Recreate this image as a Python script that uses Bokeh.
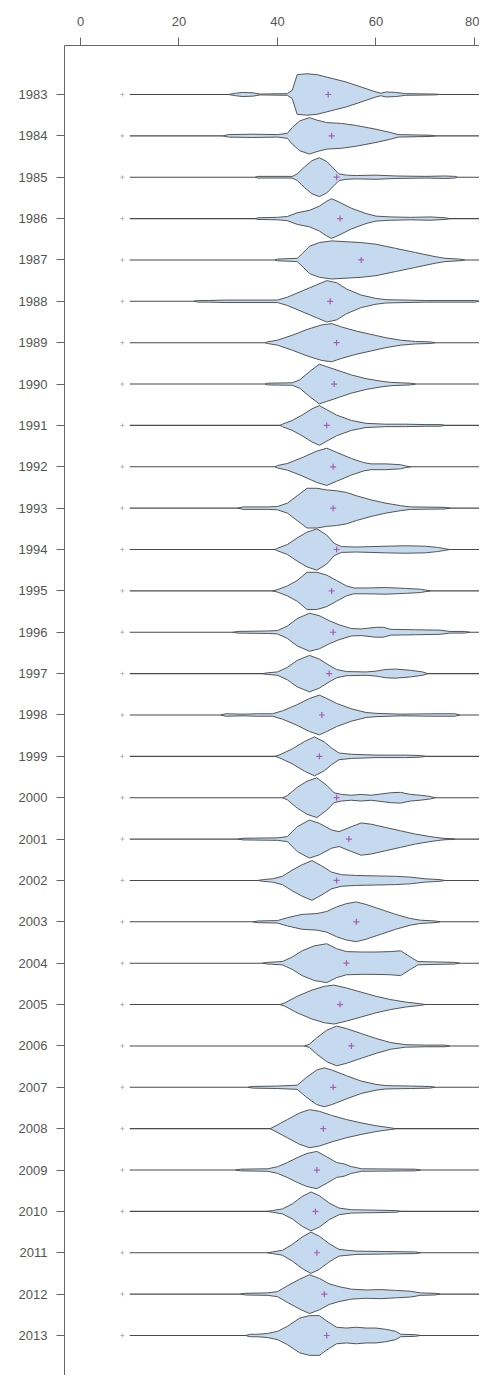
from bokeh.plotting import figure
from bokeh.models import Range1d, FixedTicker, ColumnDataSource
from bokeh.embed import file_html
from bokeh.resources import INLINE

years = list(range(1983, 2014))
year_labels = [str(y) for y in years]
x_ticks = [0, 20, 40, 60, 80]

means = [50.3, 51.0, 52.0, 52.7, 57.0, 50.7, 52.0, 51.5, 50.0, 51.3,
         51.3, 52.0, 51.0, 51.3, 50.5, 49.0, 48.5, 52.0, 54.5, 52.0,
         56.0, 54.0, 52.7, 55.0, 51.3, 49.3, 48.0, 47.7, 48.0, 49.5, 50.0]

min_mark = 8.5
line_from = 10
line_to = 95

# bean outlines: value knots and half widths (in units of year spacing)
bean_v = [
    [30, 31.5, 33, 35, 36.5, 42, 43, 44, 46, 48, 50, 54, 57, 60, 61, 62, 64, 66, 72, 73],
    [29, 30, 35, 40, 42, 43, 44.5, 46.5, 48, 50, 53, 56, 60, 63, 64.5, 71, 72],
    [35.5, 36, 43, 44, 45.5, 47, 48.5, 50, 51.5, 52.5, 54, 56, 60, 64, 70, 74, 76, 76.5],
    [35.5, 36, 40, 42, 44, 46.5, 48.5, 50, 51, 52.5, 55, 58, 60, 63, 67, 71, 74, 75],
    [39.5, 40, 44, 45, 46.5, 48.5, 51, 54, 57, 60, 64, 68, 72, 74, 77, 78],
    [23, 24, 26, 29.5, 32, 40, 42, 45, 48, 50, 52, 54, 57, 60, 62, 70, 80, 81],
    [37.5, 38, 40, 43, 46, 49, 51, 53, 56, 59, 62, 65, 68, 71, 72],
    [37.5, 38, 43, 44.5, 46.5, 48.5, 50, 52.5, 55, 58, 61, 63, 67, 68],
    [40.5, 41, 43, 45, 47, 48.5, 50, 52, 55, 58, 62, 66, 70, 73, 74],
    [39.5, 40, 42, 45, 48, 50, 52, 55, 57.5, 59, 62, 65, 66, 67],
    [32, 33, 38, 40, 42, 44, 46, 48, 50, 52, 54, 56, 59, 62, 65, 67, 74, 75],
    [39.5, 40, 42, 44, 46, 48, 50, 51.5, 53, 56, 59, 62, 66, 70, 72.5, 74, 75],
    [39, 40, 42, 44, 46, 48, 50, 52, 54, 55.5, 58, 62, 66, 69, 70, 71],
    [31, 32, 38, 40, 42, 44, 46.5, 48.5, 50.5, 52.5, 55, 57, 60, 61.5, 63, 68, 73, 75, 78, 79],
    [37, 38, 40, 42, 44, 46.5, 48.5, 50.5, 52, 54, 58, 60, 62, 64, 67, 69.5, 70.5],
    [28.5, 29.5, 33, 36, 39, 41, 44, 46.5, 48.5, 50, 52, 55, 58, 60, 65, 72, 76, 77],
    [39.5, 40.5, 43, 45.5, 47.5, 49.5, 51, 52.5, 55, 60, 66, 69, 70],
    [41, 42, 44, 46, 48, 50, 51.5, 53, 55, 57, 59, 61, 63, 65, 67, 69, 71, 72],
    [32, 33, 40, 42, 44, 46.5, 48.5, 51, 52.5, 55, 57, 59, 62, 65, 68, 71, 73.5, 75, 76],
    [36, 37, 39, 41, 43, 45, 47, 49, 51, 53, 56, 60, 64, 67, 70, 73, 74],
    [35, 36, 40, 42, 45, 48, 50, 52, 54, 56, 58, 61, 64, 67, 69, 72, 73],
    [37, 38, 41, 43, 45, 47.5, 50, 52, 54, 57, 60, 63, 65, 67, 68.5, 72, 76, 77],
    [40.5, 41.5, 44, 47, 49.5, 51.5, 54, 57, 60, 63, 66, 69, 70],
    [45.5, 46.5, 48, 50, 52, 54, 57, 60, 63, 66, 70, 74, 75],
    [34, 35, 40, 44, 46, 48, 49.5, 51, 54, 57, 60, 62, 67, 71, 72],
    [38.5, 39.5, 42, 44.5, 46.5, 48.5, 51, 54, 57, 60, 63, 64],
    [31.5, 32.5, 38, 40, 42, 44, 46, 48, 50, 52, 53.5, 55, 56, 57, 68, 69],
    [38, 39, 41, 43, 45, 46.8, 48.5, 50.5, 52.5, 55, 60, 64, 65],
    [38, 39, 41, 43, 45, 46.8, 48.5, 50.5, 52.5, 56, 62, 68, 69],
    [32.5, 33.5, 38, 40, 42, 44.5, 46.5, 48.5, 50.5, 52.5, 55, 58, 61, 64, 67, 69, 72, 73],
    [33.5, 34.5, 36, 38, 40, 42, 44.5, 46.5, 48.5, 50, 52, 54, 56, 58, 60, 62, 64, 65, 68, 69],
]
bean_w = [
    [0, 0.03, 0.05, 0.04, 0.01, 0.02, 0.1, 0.48, 0.5, 0.48, 0.42, 0.3, 0.18, 0.06, 0.03, 0.06, 0.05, 0.02, 0.01, 0],
    [0, 0.03, 0.04, 0.03, 0.06, 0.2, 0.36, 0.44, 0.38, 0.32, 0.3, 0.25, 0.16, 0.08, 0.03, 0.015, 0],
    [0, 0.02, 0.02, 0.08, 0.25, 0.4, 0.47, 0.38, 0.2, 0.08, 0.05, 0.04, 0.05, 0.03, 0.02, 0.03, 0.02, 0],
    [0, 0.02, 0.03, 0.05, 0.14, 0.2, 0.3, 0.42, 0.48, 0.4, 0.25, 0.12, 0.06, 0.04, 0.03, 0.04, 0.02, 0],
    [0, 0.02, 0.04, 0.15, 0.33, 0.42, 0.46, 0.44, 0.42, 0.38, 0.28, 0.18, 0.08, 0.04, 0.02, 0],
    [0, 0.02, 0.02, 0.03, 0.03, 0.03, 0.1, 0.25, 0.4, 0.5, 0.45, 0.3, 0.15, 0.07, 0.04, 0.02, 0.02, 0],
    [0, 0.02, 0.06, 0.18, 0.32, 0.43, 0.46, 0.38, 0.28, 0.2, 0.12, 0.06, 0.03, 0.02, 0],
    [0, 0.02, 0.03, 0.1, 0.3, 0.48, 0.42, 0.32, 0.22, 0.13, 0.07, 0.04, 0.02, 0],
    [0, 0.03, 0.12, 0.25, 0.4, 0.48, 0.38, 0.25, 0.12, 0.05, 0.03, 0.03, 0.02, 0.02, 0],
    [0, 0.03, 0.08, 0.22, 0.38, 0.45, 0.35, 0.2, 0.1, 0.07, 0.07, 0.05, 0.02, 0],
    [0, 0.03, 0.03, 0.04, 0.12, 0.3, 0.48, 0.48, 0.44, 0.42, 0.38, 0.3, 0.2, 0.12, 0.06, 0.03, 0.02, 0],
    [0, 0.03, 0.12, 0.28, 0.42, 0.5, 0.35, 0.15, 0.07, 0.06, 0.07, 0.08, 0.09, 0.08, 0.05, 0.02, 0],
    [0, 0.03, 0.12, 0.25, 0.45, 0.45, 0.38, 0.25, 0.12, 0.07, 0.07, 0.08, 0.06, 0.04, 0.02, 0],
    [0, 0.02, 0.03, 0.04, 0.15, 0.33, 0.46, 0.4, 0.28, 0.18, 0.09, 0.08, 0.12, 0.12, 0.07, 0.06, 0.05, 0.02, 0.02, 0],
    [0, 0.02, 0.04, 0.15, 0.32, 0.44, 0.35, 0.2, 0.1, 0.05, 0.04, 0.06, 0.1, 0.11, 0.08, 0.04, 0],
    [0, 0.03, 0.02, 0.03, 0.03, 0.1, 0.25, 0.4, 0.48, 0.4, 0.28, 0.15, 0.06, 0.04, 0.02, 0.03, 0.03, 0],
    [0, 0.04, 0.18, 0.36, 0.47, 0.35, 0.2, 0.08, 0.05, 0.03, 0.03, 0.02, 0],
    [0, 0.05, 0.25, 0.4, 0.48, 0.3, 0.12, 0.08, 0.06, 0.08, 0.06, 0.09, 0.12, 0.13, 0.08, 0.06, 0.03, 0],
    [0, 0.02, 0.03, 0.06, 0.3, 0.46, 0.38, 0.22, 0.18, 0.3, 0.39, 0.36, 0.28, 0.2, 0.12, 0.06, 0.02, 0.01, 0],
    [0, 0.02, 0.04, 0.1, 0.25, 0.38, 0.48, 0.35, 0.2, 0.14, 0.12, 0.11, 0.1, 0.08, 0.04, 0.02, 0],
    [0, 0.02, 0.03, 0.1, 0.18, 0.2, 0.25, 0.36, 0.44, 0.48, 0.42, 0.3, 0.18, 0.08, 0.04, 0.02, 0],
    [0, 0.02, 0.04, 0.15, 0.3, 0.42, 0.47, 0.35, 0.28, 0.27, 0.27, 0.28, 0.3, 0.15, 0.04, 0.03, 0.02, 0],
    [0, 0.04, 0.2, 0.35, 0.44, 0.47, 0.4, 0.3, 0.2, 0.12, 0.06, 0.02, 0],
    [0, 0.04, 0.2, 0.38, 0.48, 0.42, 0.3, 0.18, 0.08, 0.03, 0.02, 0.02, 0],
    [0, 0.02, 0.03, 0.05, 0.25, 0.42, 0.47, 0.42, 0.28, 0.15, 0.07, 0.04, 0.03, 0.02, 0],
    [0, 0.06, 0.22, 0.38, 0.46, 0.42, 0.32, 0.22, 0.14, 0.07, 0.02, 0],
    [0, 0.02, 0.03, 0.08, 0.18, 0.3, 0.4, 0.45, 0.32, 0.18, 0.15, 0.08, 0.06, 0.03, 0.02, 0],
    [0, 0.02, 0.06, 0.18, 0.36, 0.47, 0.38, 0.2, 0.08, 0.04, 0.03, 0.02, 0],
    [0, 0.02, 0.06, 0.2, 0.38, 0.5, 0.4, 0.22, 0.08, 0.04, 0.03, 0.02, 0],
    [0, 0.02, 0.03, 0.06, 0.2, 0.36, 0.47, 0.38, 0.25, 0.18, 0.12, 0.1, 0.11, 0.09, 0.07, 0.03, 0.02, 0],
    [0, 0.03, 0.03, 0.05, 0.1, 0.22, 0.42, 0.48, 0.48, 0.35, 0.2, 0.18, 0.2, 0.18, 0.18, 0.15, 0.1, 0.03, 0.02, 0],
]

# build patches from the data
pxs, pys = [], []
for yr, vs, ws in zip(years, bean_v, bean_w):
    pxs.append(list(vs) + list(reversed(vs)))
    pys.append([yr - w for w in ws] + [yr + w for w in reversed(ws)])

p = figure(width=479, height=1375, output_backend="svg", toolbar_location=None,
           x_axis_location="above", y_axis_location="left",
           x_range=Range1d(-3.25, 81.02), y_range=Range1d(2013.967, 1981.816),
           min_border_left=64, min_border_top=45, min_border_right=0,
           min_border_bottom=0)
p.outline_line_color = None
p.xgrid.visible = False
p.ygrid.visible = False
p.background_fill_color = "white"

line_src = ColumnDataSource(dict(x0=[line_from] * len(years), x1=[line_to] * len(years), y=years))
p.segment(x0="x0", y0="y", x1="x1", y1="y", source=line_src, line_color="#4a4a4a", line_width=1.1)
p.scatter([min_mark] * len(years), years, marker="cross", size=4, line_color="#aaaaaa", line_width=0.8)

p.patches(pxs, pys, fill_color="#c5daef", line_color="#555555", line_width=1.0)
p.scatter(means, years, marker="cross", size=6, line_color="#a65fb5", line_width=1.2)

for ax in (p.xaxis[0], p.yaxis[0]):
    ax.axis_line_color = "#666666"
    ax.major_tick_line_color = "#666666"
    ax.minor_tick_line_color = None
    ax.major_tick_in = 0
    ax.major_label_text_color = "#555555"
    ax.major_label_text_font = "Liberation Sans"
    ax.major_label_text_font_size = "13px"

p.xaxis[0].ticker = FixedTicker(ticks=x_ticks)
p.xaxis[0].major_tick_out = 8
p.xaxis[0].major_label_standoff = 12
p.yaxis[0].ticker = FixedTicker(ticks=years)
p.yaxis[0].major_label_overrides = {y: s for y, s in zip(years, year_labels)}
p.yaxis[0].major_tick_out = 8
p.yaxis[0].major_label_standoff = 9

open("out.html", "w").write(file_html(p, INLINE))
